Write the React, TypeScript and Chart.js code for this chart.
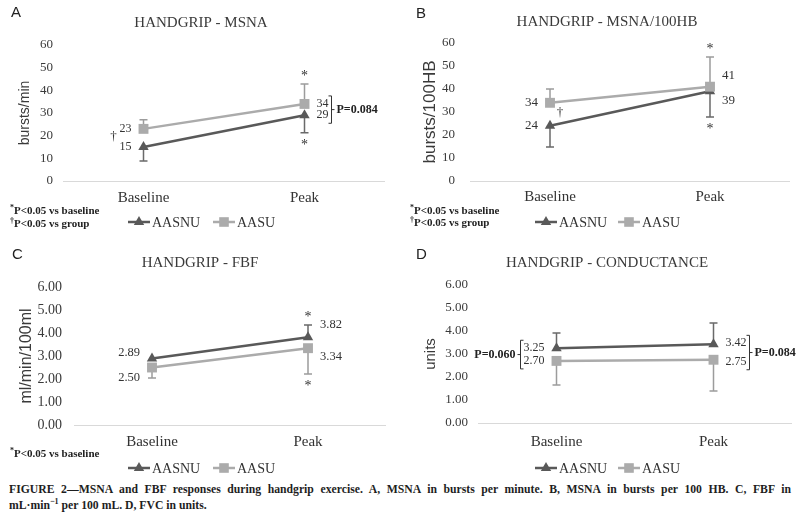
import React, { useEffect, useRef } from 'react';
import { Chart, registerables } from 'chart.js';

Chart.register(...registerables);

const SERIF = '"Liberation Serif", "Times New Roman", Times, serif';
const SANS = '"Liberation Sans", Arial, Helvetica, sans-serif';

// ---------- data ----------
const categories = ['Baseline', 'Peak'];
const seriesNames = ['AASNU', 'AASU'];

// A: MSNA bursts/min
const msnaTicks = [0, 10, 20, 30, 40, 50, 60];
const msnaAASNU = [15, 29];
const msnaAASU = [23, 34];
const msnaAASNUErr = [-6.2, -7.7];
const msnaAASUErr = [4.0, 8.8];
const msnaAASNUMarks = ['', '*'];
const msnaAASUMarks = ['', '*'];
const msnaGroupMarks = ['†', ''];
const msnaPValues = ['', 'P=0.084'];
const msnaNotes = ['*P<0.05 vs baseline', '†P<0.05 vs group'];

// B: MSNA bursts/100HB
const msnaHbTicks = [0, 10, 20, 30, 40, 50, 60];
const msnaHbAASNU = [24, 39];
const msnaHbAASU = [34, 41];
const msnaHbAASNUErr = [-9.2, -11.2];
const msnaHbAASUErr = [6.0, 12.9];
const msnaHbAASNUMarks = ['', '*'];
const msnaHbAASUMarks = ['', '*'];
const msnaHbGroupMarks = ['†', ''];
const msnaHbPValues = ['', ''];
const msnaHbNotes = ['*P<0.05 vs baseline', '†P<0.05 vs group'];

// C: FBF ml/min/100ml
const fbfTicks = [0, 1, 2, 3, 4, 5, 6];
const fbfAASNU = [2.89, 3.82];
const fbfAASU = [2.5, 3.34];
const fbfAASNUErr = [0, 0.53];
const fbfAASUErr = [-0.46, -1.12];
const fbfAASNUMarks = ['', '*'];
const fbfAASUMarks = ['', '*'];
const fbfGroupMarks = ['', ''];
const fbfPValues = ['', ''];
const fbfNotes = ['*P<0.05 vs baseline'];

// D: Conductance units
const fvcTicks = [0, 1, 2, 3, 4, 5, 6];
const fvcAASNU = [3.25, 3.42];
const fvcAASU = [2.7, 2.75];
const fvcAASNUErr = [0.66, 0.93];
const fvcAASUErr = [-1.05, -1.36];
const fvcAASNUMarks = ['', ''];
const fvcAASUMarks = ['', ''];
const fvcGroupMarks = ['', ''];
const fvcPValues = ['P=0.060', 'P=0.084'];
const fvcNotes: string[] = [];

// ---------- styling ----------
const LINE_COLORS = ['#595959', '#ababab'];
const ERR_COLORS = ['#6a6a6a', '#9c9c9c'];
const TEXT = '#333333';

type Panel = {
  letter: string;
  title: string;
  yTitle: string;
  ticks: number[];
  decimals: number;
  values: number[][];
  errors: number[][];
  marks: string[][];
  groupMarks: string[];
  pValues: string[];
  notes: string[];
  box: { left: number; top: number; w: number; h: number };
  area: { l: number; r: number; t: number; b: number };
  yTitleX: number;
  yTitleSize: number;
  tickSize: number;
  tickPad: number;
  xLabelY: number;
  titleX: number;
  titleY: number;
  letterPos: [number, number];
  notesY: number[];
  legendY: number;
  legendX: number[];
  labelSize: number;
  labelDy: number[][];
  groupOffset: [number, number];
};

const panels: Panel[] = [
  {
    letter: 'A', title: 'HANDGRIP - MSNA', yTitle: 'bursts/min', ticks: msnaTicks, decimals: 0,
    values: [msnaAASNU, msnaAASU], errors: [msnaAASNUErr, msnaAASUErr],
    marks: [msnaAASNUMarks, msnaAASUMarks], groupMarks: msnaGroupMarks, pValues: msnaPValues, notes: msnaNotes,
    box: { left: 0, top: 0, w: 400, h: 235 }, area: { l: 63, r: 385, t: 45, b: 181 },
    yTitleX: 25, yTitleSize: 14, tickSize: 13, tickPad: 10, xLabelY: 198, titleX: 201, titleY: 23,
    letterPos: [11, 13], notesY: [211, 224], legendY: 222, legendX: [128, 213],
    labelSize: 12, labelDy: [[0, 0], [0, 0]], groupOffset: [-30, -1],
  },
  {
    letter: 'B', title: 'HANDGRIP - MSNA/100HB', yTitle: 'bursts/100HB', ticks: msnaHbTicks, decimals: 0,
    values: [msnaHbAASNU, msnaHbAASU], errors: [msnaHbAASNUErr, msnaHbAASUErr],
    marks: [msnaHbAASNUMarks, msnaHbAASUMarks], groupMarks: msnaHbGroupMarks, pValues: msnaHbPValues, notes: msnaHbNotes,
    box: { left: 400, top: 0, w: 400, h: 235 }, area: { l: 70, r: 390, t: 43, b: 181 },
    yTitleX: 30, yTitleSize: 17, tickSize: 13, tickPad: 15, xLabelY: 197, titleX: 207, titleY: 22,
    letterPos: [16, 14], notesY: [211, 223], legendY: 222, legendX: [135, 218],
    labelSize: 13, labelDy: [[0, 9], [0, -11]], groupOffset: [10, -2],
  },
  {
    letter: 'C', title: 'HANDGRIP - FBF', yTitle: 'ml/min/100ml', ticks: fbfTicks, decimals: 2,
    values: [fbfAASNU, fbfAASU], errors: [fbfAASNUErr, fbfAASUErr],
    marks: [fbfAASNUMarks, fbfAASUMarks], groupMarks: fbfGroupMarks, pValues: fbfPValues, notes: fbfNotes,
    box: { left: 0, top: 235, w: 400, h: 245 }, area: { l: 74, r: 386, t: 52, b: 190 },
    yTitleX: 27, yTitleSize: 16, tickSize: 14, tickPad: 12, xLabelY: 207, titleX: 200, titleY: 28,
    letterPos: [12, 20], notesY: [219], legendY: 233, legendX: [128, 213],
    labelSize: 12.5, labelDy: [[-6, -12], [10, 9]], groupOffset: [0, 0],
  },
  {
    letter: 'D', title: 'HANDGRIP - CONDUCTANCE', yTitle: 'units', ticks: fvcTicks, decimals: 2,
    values: [fvcAASNU, fvcAASU], errors: [fvcAASNUErr, fvcAASUErr],
    marks: [fvcAASNUMarks, fvcAASUMarks], groupMarks: fvcGroupMarks, pValues: fvcPValues, notes: fvcNotes,
    box: { left: 400, top: 235, w: 400, h: 245 }, area: { l: 78, r: 392, t: 50, b: 188 },
    yTitleX: 31, yTitleSize: 15, tickSize: 13, tickPad: 10, xLabelY: 207, titleX: 207, titleY: 28,
    letterPos: [16, 20], notesY: [], legendY: 233, legendX: [135, 218],
    labelSize: 12, labelDy: [[0, -1], [0, 2]], groupOffset: [0, 0],
  },
];

function drawMarker(ctx: CanvasRenderingContext2D, kind: number, x: number, y: number, color: string) {
  ctx.fillStyle = color;
  ctx.beginPath();
  if (kind === 0) {
    const r = 6;
    ctx.moveTo(x, y - r);
    ctx.lineTo(x + r * 0.866, y + r * 0.5);
    ctx.lineTo(x - r * 0.866, y + r * 0.5);
    ctx.closePath();
  } else {
    const s = 4.8;
    ctx.rect(x - s, y - s, 2 * s, 2 * s);
  }
  ctx.fill();
}

function makeDecor(p: Panel) {
  return {
    id: 'decor',
    beforeDatasetsDraw(chart: any) {
      const ctx: CanvasRenderingContext2D = chart.ctx;
      const ys = chart.scales.y;
      ctx.save();
      p.errors.forEach((errs, i) => {
        const meta = chart.getDatasetMeta(i);
        errs.forEach((e, j) => {
          if (!e) return;
          const v = p.values[i][j];
          const x = meta.data[j].x;
          const y0 = ys.getPixelForValue(v);
          const y1 = ys.getPixelForValue(v + e);
          ctx.strokeStyle = ERR_COLORS[i];
          ctx.lineWidth = 1.5;
          ctx.beginPath();
          ctx.moveTo(x, y0);
          ctx.lineTo(x, y1);
          ctx.moveTo(x - 4, y1);
          ctx.lineTo(x + 4, y1);
          ctx.stroke();
        });
      });
      ctx.restore();
    },
    afterDraw(chart: any) {
      const ctx: CanvasRenderingContext2D = chart.ctx;
      const ys = chart.scales.y;
      ctx.save();
      // panel letter
      ctx.fillStyle = '#222';
      ctx.font = `15px ${SANS}`;
      ctx.textAlign = 'left';
      ctx.textBaseline = 'middle';
      ctx.fillText(p.letter, p.letterPos[0], p.letterPos[1]);
      // title
      ctx.fillStyle = '#3a3a3a';
      ctx.font = `15px ${SERIF}`;
      ctx.textAlign = 'center';
      ctx.fillText(p.title, p.titleX, p.titleY);

      // value labels
      ctx.font = `${p.labelSize}px ${SERIF}`;
      ctx.fillStyle = TEXT;
      const boxes: { l: number; r: number; y: number }[][] = [[], []];
      p.values.forEach((vals, i) => {
        const meta = chart.getDatasetMeta(i);
        vals.forEach((v, j) => {
          const pt = meta.data[j];
          const left = j === 0;
          const txt = v.toFixed(p.decimals);
          const w = ctx.measureText(txt).width;
          const x = left ? pt.x - 12 : pt.x + 12;
          const y = pt.y + p.labelDy[i][j];
          ctx.textAlign = left ? 'right' : 'left';
          ctx.fillText(txt, x, y);
          boxes[j].push({ l: left ? x - w : x, r: left ? x : x + w, y });
        });
      });

      // significance vs baseline marks
      const starSize = 14;
      ctx.font = `${starSize}px ${SERIF}`;
      ctx.textAlign = 'center';
      ctx.textBaseline = 'alphabetic';
      p.marks.forEach((mk, i) => {
        const meta = chart.getDatasetMeta(i);
        mk.forEach((m, j) => {
          if (!m) return;
          const e = p.errors[i][j];
          const y1 = ys.getPixelForValue(p.values[i][j] + e);
          const cy = y1 + (e >= 0 ? -10 : 10);
          ctx.fillText(m, meta.data[j].x, cy + starSize * 0.45);
        });
      });

      // group marks (dagger)
      ctx.font = `13px ${SERIF}`;
      ctx.textBaseline = 'middle';
      p.groupMarks.forEach((g, j) => {
        if (!g) return;
        const a = chart.getDatasetMeta(0).data[j];
        const b = chart.getDatasetMeta(1).data[j];
        ctx.fillText(g, a.x + p.groupOffset[0], (a.y + b.y) / 2 + p.groupOffset[1]);
      });

      // brackets with P values
      p.pValues.forEach((pv, j) => {
        if (!pv) return;
        const bx = boxes[j];
        const top = Math.min(...bx.map((b) => b.y)) - 8;
        const bot = Math.max(...bx.map((b) => b.y)) + 8;
        const mid = (top + bot) / 2;
        const left = j === 0;
        const x = left ? Math.min(...bx.map((b) => b.l)) - 3 : Math.max(...bx.map((b) => b.r)) + 3;
        const dir = left ? 1 : -1;
        ctx.strokeStyle = '#333';
        ctx.lineWidth = 1;
        ctx.beginPath();
        ctx.moveTo(x + dir * 3, top);
        ctx.lineTo(x, top);
        ctx.lineTo(x, bot);
        ctx.lineTo(x + dir * 3, bot);
        ctx.moveTo(x, mid);
        ctx.lineTo(x - dir * 3, mid);
        ctx.stroke();
        ctx.font = `bold 12px ${SERIF}`;
        ctx.fillStyle = '#222';
        ctx.textAlign = left ? 'right' : 'left';
        ctx.fillText(pv, x - dir * 5, mid);
      });

      // footnotes
      p.notes.forEach((n, k) => {
        const y = p.notesY[k];
        ctx.fillStyle = '#222';
        ctx.textAlign = 'left';
        ctx.font = `bold 8px ${SERIF}`;
        ctx.fillText(n[0], 10, y - 3);
        const w0 = ctx.measureText(n[0]).width;
        ctx.font = `bold 11px ${SERIF}`;
        ctx.fillText(n.slice(1), 10 + w0, y);
      });

      // legend
      seriesNames.forEach((name, i) => {
        const x0 = p.legendX[i];
        const y = p.legendY;
        ctx.strokeStyle = LINE_COLORS[i];
        ctx.lineWidth = 2.5;
        ctx.beginPath();
        ctx.moveTo(x0, y);
        ctx.lineTo(x0 + 22, y);
        ctx.stroke();
        drawMarker(ctx, i, x0 + 11, y, LINE_COLORS[i]);
        ctx.fillStyle = TEXT;
        ctx.font = `14px ${SERIF}`;
        ctx.textAlign = 'left';
        ctx.textBaseline = 'middle';
        ctx.fillText(name, x0 + 24, y + 1);
      });
      ctx.restore();
    },
  };
}

function buildConfig(p: Panel): any {
  const W = p.box.w;
  const H = p.box.h;
  const yTitleLH = p.yTitleSize * 1.2;
  const yAxisLeft = p.yTitleX - yTitleLH / 2;
  const yAxisWidth = p.area.l - yAxisLeft;
  const xAxisHeight = 30;
  const xFont = 15;
  return {
    type: 'line',
    data: {
      labels: categories,
      datasets: p.values.map((vals, i) => ({
        label: seriesNames[i],
        data: vals,
        borderColor: LINE_COLORS[i],
        backgroundColor: LINE_COLORS[i],
        pointBackgroundColor: LINE_COLORS[i],
        pointBorderColor: LINE_COLORS[i],
        pointStyle: i === 0 ? 'triangle' : 'rect',
        pointRadius: i === 0 ? 6 : 7,
        pointBorderWidth: 0,
        borderWidth: 2.5,
        tension: 0,
        order: i === 0 ? 1 : 0,
      })),
    },
    options: {
      animation: false,
      responsive: false,
      devicePixelRatio: 1,
      layout: {
        padding: {
          left: yAxisLeft,
          top: p.area.t,
          right: W - p.area.r,
          bottom: H - p.area.b - xAxisHeight,
        },
      },
      plugins: {
        legend: { display: false },
        title: { display: false },
        tooltip: { enabled: false },
      },
      scales: {
        x: {
          type: 'category',
          offset: true,
          grid: { display: false, drawTicks: false },
          border: { display: false },
          ticks: {
            font: { family: SERIF, size: xFont },
            color: TEXT,
            padding: p.xLabelY - p.area.b - (xFont * 1.2) / 2,
            maxRotation: 0,
            autoSkip: false,
          },
          afterFit: (s: any) => {
            s.height = xAxisHeight;
          },
        },
        y: {
          min: p.ticks[0],
          max: p.ticks[p.ticks.length - 1],
          afterBuildTicks: (s: any) => {
            s.ticks = p.ticks.map((v) => ({ value: v }));
          },
          grid: {
            color: (c: any) => (c.tick && c.tick.value === 0 ? '#d9d9d9' : 'rgba(0,0,0,0)'),
            drawTicks: false,
            lineWidth: 1,
          },
          border: { display: false },
          ticks: {
            font: { family: SERIF, size: p.tickSize },
            color: '#3a3a3a',
            padding: p.tickPad,
            callback: (v: any) => Number(v).toFixed(p.decimals),
          },
          title: {
            display: true,
            text: p.yTitle,
            font: { family: SANS, size: p.yTitleSize },
            color: '#3a3a3a',
            padding: { top: 0, bottom: 0 },
          },
          afterFit: (s: any) => {
            s.width = yAxisWidth;
          },
        },
      },
    },
    plugins: [makeDecor(p)],
  };
}

function PanelChart({ p }: { p: Panel }) {
  const ref = useRef<HTMLCanvasElement>(null);
  useEffect(() => {
    if (!ref.current) return;
    const chart = new Chart(ref.current, buildConfig(p));
    return () => chart.destroy();
  }, [p]);
  return (
    <canvas
      ref={ref}
      width={p.box.w}
      height={p.box.h}
      style={{ position: 'absolute', left: p.box.left, top: p.box.top, width: p.box.w, height: p.box.h }}
    />
  );
}

const CAPTION_SCALE = 0.9;

export default function App() {
  return (
    <div style={{ position: 'absolute', left: 0, top: 0, width: 800, height: 515, background: '#fff', overflow: 'hidden' }}>
      {panels.map((p) => (
        <PanelChart key={p.letter} p={p} />
      ))}
      <div
        style={{
          position: 'absolute',
          left: 9,
          top: 481,
          width: 782 / CAPTION_SCALE,
          transform: `scaleX(${CAPTION_SCALE})`,
          transformOrigin: 'left top',
          fontFamily: SERIF,
          fontWeight: 'bold',
          fontSize: 13,
          lineHeight: '16px',
          color: '#1e1e1e',
        }}
      >
        <div style={{ textAlign: 'justify', textAlignLast: 'justify', whiteSpace: 'nowrap' }}>
          FIGURE 2—MSNA and FBF responses during handgrip exercise. A, MSNA in bursts per minute. B, MSNA in bursts per 100 HB. C, FBF in
        </div>
        <div>
          mL·min<sup style={{ fontSize: 9, lineHeight: 0 }}>−1</sup> per 100 mL. D, FVC in units.
        </div>
      </div>
    </div>
  );
}
